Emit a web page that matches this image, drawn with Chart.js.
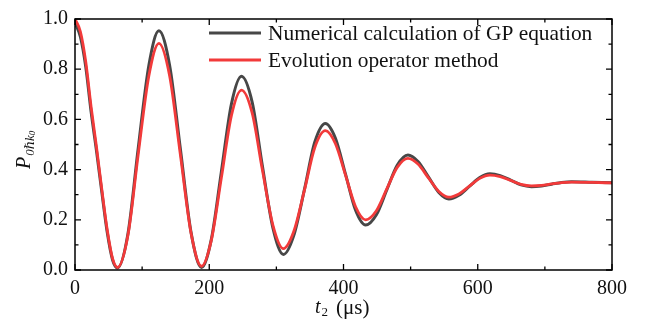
<!DOCTYPE html>
<html>
<head>
<meta charset="utf-8">
<script src="https://cdn.jsdelivr.net/npm/chart.js@4"></script>
<style>
  body { margin: 0; background: #fff; }
  #wrap { width: 650px; height: 333px; }
</style>
</head>
<body>
<div id="wrap"><canvas id="chart" width="650" height="333"></canvas></div>
<script>
// t2 (µs) sample positions
const times = [0, 8, 16, 24, 32, 40, 48, 56, 63.5, 79, 94, 110, 125, 141, 157, 173, 188.5, 203, 218, 233, 248,
  264, 279, 295, 310.5, 326, 342, 357, 373, 388, 403, 418, 433, 449, 464.5, 480, 496,
  511, 526.5, 542, 557, 572, 587.5, 603, 618, 633.5, 649, 664.5, 680, 695, 710, 725, 740, 770, 800];

// numerical calculation of GP equation
const gpValues = [0.985, 0.93, 0.81, 0.63, 0.475, 0.31, 0.15, 0.04, 0.008, 0.146, 0.481, 0.815, 0.953, 0.815, 0.482, 0.148, 0.010, 0.121, 0.391, 0.661, 0.772,
  0.668, 0.417, 0.166, 0.062, 0.138, 0.323, 0.508, 0.584, 0.525, 0.382, 0.238, 0.179, 0.220, 0.319, 0.417, 0.458,
  0.432, 0.371, 0.309, 0.283, 0.298, 0.333, 0.368, 0.383, 0.376, 0.358, 0.339, 0.332, 0.335, 0.342, 0.349, 0.352, 0.350, 0.348];

// evolution operator method
const evoValues = [1.0, 0.95, 0.83, 0.65, 0.49, 0.32, 0.16, 0.045, 0.010, 0.140, 0.457, 0.773, 0.903, 0.773, 0.459, 0.145, 0.015, 0.117, 0.366, 0.615, 0.717,
  0.625, 0.401, 0.177, 0.085, 0.154, 0.320, 0.486, 0.555, 0.503, 0.378, 0.252, 0.200, 0.236, 0.323, 0.409, 0.445,
  0.422, 0.367, 0.313, 0.290, 0.303, 0.334, 0.365, 0.378, 0.372, 0.357, 0.341, 0.335, 0.337, 0.343, 0.348, 0.350, 0.349, 0.347];

const xMajor = [0, 200, 400, 600, 800];
const xMinor = [100, 300, 500, 700];
const yMajor = [0, 0.2, 0.4, 0.6, 0.8, 1.0];
const yMinor = [0.1, 0.3, 0.5, 0.7, 0.9];

const seriesLabels = ["Numerical calculation of GP equation", "Evolution operator method"];
const grayColor = "#474747";
const redColor = "#f23a3a";
const serif = "'Liberation Serif', 'DejaVu Serif', serif";

function toPoints(vals) {
    return times.map((t, i) => ({ x: t, y: vals[i] }));
}

// frame, inward ticks on all four sides, legend, axis titles
const decorations = {
    id: "decorations",
    afterDatasetsDraw(chart) {
        const ctx = chart.ctx;
        const a = chart.chartArea;
        const xs = chart.scales.x, ys = chart.scales.y;
        ctx.save();
        ctx.strokeStyle = "#000";
        ctx.lineWidth = 1.5;
        ctx.strokeRect(a.left, a.top, a.right - a.left, a.bottom - a.top);

        ctx.lineWidth = 1.3;
        ctx.beginPath();
        const tick = (vals, len) => {
            vals.forEach(v => {
                const px = xs.getPixelForValue(v);
                ctx.moveTo(px, a.bottom); ctx.lineTo(px, a.bottom - len);
                ctx.moveTo(px, a.top); ctx.lineTo(px, a.top + len);
            });
        };
        const ytick = (vals, len) => {
            vals.forEach(v => {
                const py = ys.getPixelForValue(v);
                ctx.moveTo(a.left, py); ctx.lineTo(a.left + len, py);
                ctx.moveTo(a.right, py); ctx.lineTo(a.right - len, py);
            });
        };
        tick(xMajor, 6); tick(xMinor, 3.5);
        ytick(yMajor, 6); ytick(yMinor, 3.5);
        ctx.stroke();

        // legend
        const rows = [33, 60];
        chart.data.datasets.slice().sort((p, q) => p.legendRow - q.legendRow).forEach((ds, i) => {
            ctx.strokeStyle = ds.borderColor;
            ctx.lineWidth = 2.8;
            ctx.beginPath();
            ctx.moveTo(209, rows[i]); ctx.lineTo(261, rows[i]);
            ctx.stroke();
            ctx.fillStyle = "#111";
            ctx.font = "21.4px " + serif;
            ctx.textBaseline = "middle";
            ctx.textAlign = "left";
            ctx.fillText(ds.label, 268, rows[i] + 1);
        });

        // x title: t_2 (µs)
        ctx.fillStyle = "#111";
        ctx.textBaseline = "alphabetic";
        ctx.textAlign = "left";
        let x = 315;
        ctx.font = "italic 20px " + serif;
        ctx.fillText("t", x, 313);
        x += ctx.measureText("t").width + 1;
        ctx.font = "13px " + serif;
        ctx.fillText("2", x, 316);
        ctx.font = "21px " + serif;
        ctx.fillText("(\u03bcs)", 336, 314);

        // y title: P_{0ħk_0}, rotated
        ctx.translate(30, 169);
        ctx.rotate(-Math.PI / 2);
        let u = 0;
        ctx.font = "italic 20px " + serif;
        ctx.fillText("P", u, 0);
        u += ctx.measureText("P").width + 1;
        ctx.font = "italic 13px " + serif;
        ctx.fillText("0\u210fk", u, 3.5);
        u += ctx.measureText("0\u210fk").width;
        ctx.font = "italic 9px " + serif;
        ctx.fillText("0", u, 5);
        ctx.restore();
    }
};

new Chart(document.getElementById("chart"), {
    type: "line",
    data: {
        datasets: [{
            label: seriesLabels[1],
            data: toPoints(evoValues),
            borderColor: redColor,
            borderWidth: 2.8,
            order: 1,
            legendRow: 1
        }, {
            label: seriesLabels[0],
            data: toPoints(gpValues),
            borderColor: grayColor,
            borderWidth: 3,
            order: 2,
            legendRow: 0
        }]
    },
    options: {
        responsive: false,
        animation: false,
        devicePixelRatio: 1,
        elements: { point: { radius: 0 }, line: { cubicInterpolationMode: "monotone" } },
        layout: { padding: { top: 13, right: 38, left: 0, bottom: 0 } },
        plugins: { legend: { display: false }, tooltip: { enabled: false } },
        scales: {
            x: {
                type: "linear",
                min: 0, max: 800,
                grid: { display: false, drawTicks: false },
                border: { display: false },
                ticks: {
                    stepSize: 200, padding: 7, color: "#111",
                    font: { family: serif, size: 20 }
                },
                afterFit(scale) { scale.height = 63; }
            },
            y: {
                min: 0, max: 1,
                grid: { display: false, drawTicks: false },
                border: { display: false },
                ticks: {
                    stepSize: 0.2, padding: 7, color: "#111",
                    font: { family: serif, size: 20 },
                    callback: v => v.toFixed(1)
                },
                afterFit(scale) { scale.width = 75; }
            }
        }
    },
    plugins: [decorations]
});
</script>
</body>
</html>
